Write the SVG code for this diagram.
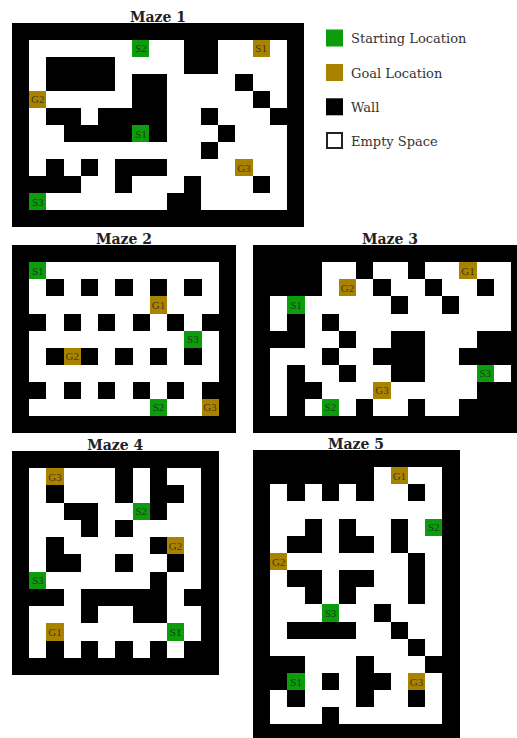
<svg xmlns="http://www.w3.org/2000/svg" width="517" height="738" viewBox="0 0 517 738">
<style>
.bg{fill:#000}
.w{fill:#fff}
.g{fill:#0c9c0c}
.y{fill:#a98300}
.m rect{shape-rendering:crispEdges}
.lbl{font-family:"Liberation Serif","DejaVu Serif",serif;font-size:11px;text-anchor:middle;dominant-baseline:central;fill:#1a1a1a;fill-opacity:.75}
.title{font-family:"DejaVu Serif","Liberation Serif",serif;font-weight:bold;font-size:14px;text-anchor:middle;fill:#222}
.leg{font-family:"DejaVu Serif","Liberation Serif",serif;font-size:13px;fill:#333}
</style>
<rect width="517" height="738" fill="#fff"/>

<g id="maze1">
<text class="title" x="158" y="21.5">Maze 1</text>
<g class="m" transform="translate(12,22.7) scale(17.18,17.05)">
<rect class="bg" x="0" y="0" width="17" height="12"/>
<g class="w">
<rect x="1" y="1" width="9" height="1"/><rect x="12" y="1" width="4" height="1"/>
<rect x="1" y="2" width="1" height="1"/><rect x="6" y="2" width="4" height="1"/><rect x="12" y="2" width="4" height="1"/>
<rect x="1" y="3" width="1" height="1"/><rect x="6" y="3" width="1" height="1"/><rect x="9" y="3" width="4" height="1"/><rect x="14" y="3" width="2" height="1"/>
<rect x="1" y="4" width="6" height="1"/><rect x="9" y="4" width="5" height="1"/><rect x="15" y="4" width="1" height="1"/>
<rect x="1" y="5" width="1" height="1"/><rect x="4" y="5" width="1" height="1"/><rect x="9" y="5" width="2" height="1"/><rect x="12" y="5" width="3" height="1"/>
<rect x="1" y="6" width="2" height="1"/><rect x="7" y="6" width="1" height="1"/><rect x="9" y="6" width="3" height="1"/><rect x="13" y="6" width="3" height="1"/>
<rect x="1" y="7" width="10" height="1"/><rect x="12" y="7" width="4" height="1"/>
<rect x="1" y="8" width="1" height="1"/><rect x="3" y="8" width="1" height="1"/><rect x="5" y="8" width="1" height="1"/><rect x="9" y="8" width="7" height="1"/>
<rect x="4" y="9" width="2" height="1"/><rect x="7" y="9" width="3" height="1"/><rect x="11" y="9" width="3" height="1"/><rect x="15" y="9" width="1" height="1"/>
<rect x="1" y="10" width="8" height="1"/><rect x="11" y="10" width="5" height="1"/>
</g>
<rect class="g" x="7" y="1" width="1" height="1"/>
<rect class="y" x="14" y="1" width="1" height="1"/>
<rect class="y" x="1" y="4" width="1" height="1"/>
<rect class="g" x="7" y="6" width="1" height="1"/>
<rect class="y" x="13" y="8" width="1" height="1"/>
<rect class="g" x="1" y="10" width="1" height="1"/>
</g>
<text class="lbl" x="140.85" y="48.3">S2</text>
<text class="lbl" x="261.1" y="48.3">S1</text>
<text class="lbl" x="37.8" y="99.4">G2</text>
<text class="lbl" x="140.85" y="133.5">S1</text>
<text class="lbl" x="243.9" y="167.6">G3</text>
<text class="lbl" x="37.8" y="201.7">S3</text>
</g>

<g id="legend">
<rect class="g" x="326" y="29.5" width="17" height="17"/>
<text class="leg" x="351" y="43">Starting Location</text>
<rect class="y" x="326" y="64" width="17" height="17"/>
<text class="leg" x="351" y="77.5">Goal Location</text>
<rect class="bg" x="326" y="98.3" width="17" height="17"/>
<text class="leg" x="351" y="111.8">Wall</text>
<rect x="327" y="133" width="15" height="15" fill="#fff" stroke="#222" stroke-width="2"/>
<text class="leg" x="351" y="146">Empty Space</text>
</g>

<g id="maze2">
<text class="title" x="124" y="243.7">Maze 2</text>
<g class="m" transform="translate(12,245.3) scale(17.23,17.06)">
<rect class="bg" x="0" y="0" width="13" height="11"/>
<g class="w">
<rect x="1" y="1" width="11" height="1"/>
<rect x="1" y="2" width="1" height="1"/><rect x="3" y="2" width="1" height="1"/><rect x="5" y="2" width="1" height="1"/><rect x="7" y="2" width="1" height="1"/><rect x="9" y="2" width="1" height="1"/><rect x="11" y="2" width="1" height="1"/>
<rect x="1" y="3" width="11" height="1"/>
<rect x="2" y="4" width="1" height="1"/><rect x="4" y="4" width="1" height="1"/><rect x="6" y="4" width="1" height="1"/><rect x="8" y="4" width="1" height="1"/><rect x="10" y="4" width="1" height="1"/>
<rect x="1" y="5" width="11" height="1"/>
<rect x="1" y="6" width="1" height="1"/><rect x="3" y="6" width="1" height="1"/><rect x="5" y="6" width="1" height="1"/><rect x="7" y="6" width="1" height="1"/><rect x="9" y="6" width="1" height="1"/><rect x="11" y="6" width="1" height="1"/>
<rect x="1" y="7" width="11" height="1"/>
<rect x="2" y="8" width="1" height="1"/><rect x="4" y="8" width="1" height="1"/><rect x="6" y="8" width="1" height="1"/><rect x="8" y="8" width="1" height="1"/><rect x="10" y="8" width="1" height="1"/>
<rect x="1" y="9" width="11" height="1"/>
</g>
<rect class="g" x="1" y="1" width="1" height="1"/>
<rect class="y" x="8" y="3" width="1" height="1"/>
<rect class="g" x="10" y="5" width="1" height="1"/>
<rect class="y" x="3" y="6" width="1" height="1"/>
<rect class="g" x="8" y="9" width="1" height="1"/>
<rect class="y" x="11" y="9" width="1" height="1"/>
</g>
<text class="lbl" x="37.8" y="270.9">S1</text>
<text class="lbl" x="158.5" y="305">G1</text>
<text class="lbl" x="192.9" y="339.1">S3</text>
<text class="lbl" x="72.3" y="356.2">G2</text>
<text class="lbl" x="158.5" y="407.4">S2</text>
<text class="lbl" x="210.1" y="407.4">G3</text>
</g>

<g id="maze3">
<text class="title" x="390" y="243.7">Maze 3</text>
<g class="m" transform="translate(253,245.3) scale(17.2,17.06)">
<rect class="bg" x="0" y="0" width="16" height="11"/>
<g class="w">
<rect x="4" y="1" width="2" height="1"/><rect x="7" y="1" width="2" height="1"/><rect x="10" y="1" width="5" height="1"/>
<rect x="4" y="2" width="3" height="1"/><rect x="8" y="2" width="2" height="1"/><rect x="11" y="2" width="2" height="1"/><rect x="14" y="2" width="1" height="1"/>
<rect x="1" y="3" width="7" height="1"/><rect x="9" y="3" width="2" height="1"/><rect x="12" y="3" width="3" height="1"/>
<rect x="1" y="4" width="1" height="1"/><rect x="3" y="4" width="1" height="1"/><rect x="5" y="4" width="10" height="1"/>
<rect x="3" y="5" width="2" height="1"/><rect x="6" y="5" width="2" height="1"/><rect x="10" y="5" width="3" height="1"/>
<rect x="1" y="6" width="3" height="1"/><rect x="5" y="6" width="2" height="1"/><rect x="10" y="6" width="2" height="1"/>
<rect x="1" y="7" width="1" height="1"/><rect x="3" y="7" width="2" height="1"/><rect x="6" y="7" width="2" height="1"/><rect x="10" y="7" width="5" height="1"/>
<rect x="1" y="8" width="1" height="1"/><rect x="4" y="8" width="9" height="1"/>
<rect x="1" y="9" width="1" height="1"/><rect x="3" y="9" width="3" height="1"/><rect x="7" y="9" width="2" height="1"/><rect x="10" y="9" width="2" height="1"/>
</g>
<rect class="y" x="12" y="1" width="1" height="1"/>
<rect class="y" x="5" y="2" width="1" height="1"/>
<rect class="g" x="2" y="3" width="1" height="1"/>
<rect class="g" x="13" y="7" width="1" height="1"/>
<rect class="y" x="7" y="8" width="1" height="1"/>
<rect class="g" x="4" y="9" width="1" height="1"/>
</g>
<text class="lbl" x="468" y="270.9">G1</text>
<text class="lbl" x="347.6" y="288">G2</text>
<text class="lbl" x="296" y="305">S1</text>
<text class="lbl" x="485.2" y="373.3">S3</text>
<text class="lbl" x="382" y="390.3">G3</text>
<text class="lbl" x="330.4" y="407.4">S2</text>
</g>

<g id="maze4">
<text class="title" x="115.3" y="450.3">Maze 4</text>
<g class="m" transform="translate(12,451) scale(17.22,17.23)">
<rect class="bg" x="0" y="0" width="12" height="13"/>
<g class="w">
<rect x="1" y="1" width="5" height="1"/><rect x="7" y="1" width="1" height="1"/><rect x="9" y="1" width="2" height="1"/>
<rect x="1" y="2" width="1" height="1"/><rect x="3" y="2" width="3" height="1"/><rect x="7" y="2" width="1" height="1"/><rect x="10" y="2" width="1" height="1"/>
<rect x="1" y="3" width="2" height="1"/><rect x="5" y="3" width="3" height="1"/><rect x="9" y="3" width="2" height="1"/>
<rect x="1" y="4" width="3" height="1"/><rect x="5" y="4" width="1" height="1"/><rect x="7" y="4" width="4" height="1"/>
<rect x="1" y="5" width="1" height="1"/><rect x="3" y="5" width="5" height="1"/><rect x="9" y="5" width="2" height="1"/>
<rect x="1" y="6" width="1" height="1"/><rect x="4" y="6" width="2" height="1"/><rect x="7" y="6" width="2" height="1"/><rect x="10" y="6" width="1" height="1"/>
<rect x="1" y="7" width="7" height="1"/><rect x="9" y="7" width="2" height="1"/>
<rect x="3" y="8" width="1" height="1"/><rect x="9" y="8" width="1" height="1"/>
<rect x="1" y="9" width="3" height="1"/><rect x="5" y="9" width="2" height="1"/><rect x="9" y="9" width="2" height="1"/>
<rect x="1" y="10" width="10" height="1"/>
<rect x="1" y="11" width="1" height="1"/><rect x="3" y="11" width="1" height="1"/><rect x="5" y="11" width="1" height="1"/><rect x="7" y="11" width="1" height="1"/><rect x="9" y="11" width="1" height="1"/>
</g>
<rect class="y" x="2" y="1" width="1" height="1"/>
<rect class="g" x="7" y="3" width="1" height="1"/>
<rect class="y" x="9" y="5" width="1" height="1"/>
<rect class="g" x="1" y="7" width="1" height="1"/>
<rect class="y" x="2" y="10" width="1" height="1"/>
<rect class="g" x="9" y="10" width="1" height="1"/>
</g>
<text class="lbl" x="55.05" y="476.8">G3</text>
<text class="lbl" x="141.2" y="511.3">S2</text>
<text class="lbl" x="175.6" y="545.8">G2</text>
<text class="lbl" x="37.8" y="580.2">S3</text>
<text class="lbl" x="55.05" y="631.9">G1</text>
<text class="lbl" x="175.6" y="631.9">S1</text>
</g>

<g id="maze5">
<text class="title" x="356" y="449.3">Maze 5</text>
<g class="m" transform="translate(253,450) scale(17.22,17.15)">
<rect class="bg" x="0" y="0" width="12" height="17"/>
<g class="w">
<rect x="7" y="1" width="4" height="1"/>
<rect x="1" y="2" width="1" height="1"/><rect x="3" y="2" width="1" height="1"/><rect x="5" y="2" width="1" height="1"/><rect x="7" y="2" width="2" height="1"/><rect x="10" y="2" width="1" height="1"/>
<rect x="1" y="3" width="10" height="1"/>
<rect x="1" y="4" width="2" height="1"/><rect x="4" y="4" width="1" height="1"/><rect x="6" y="4" width="2" height="1"/><rect x="9" y="4" width="2" height="1"/>
<rect x="1" y="5" width="1" height="1"/><rect x="4" y="5" width="1" height="1"/><rect x="7" y="5" width="1" height="1"/><rect x="9" y="5" width="2" height="1"/>
<rect x="1" y="6" width="8" height="1"/><rect x="10" y="6" width="1" height="1"/>
<rect x="1" y="7" width="1" height="1"/><rect x="4" y="7" width="1" height="1"/><rect x="7" y="7" width="2" height="1"/><rect x="10" y="7" width="1" height="1"/>
<rect x="1" y="8" width="2" height="1"/><rect x="4" y="8" width="1" height="1"/><rect x="6" y="8" width="3" height="1"/><rect x="10" y="8" width="1" height="1"/>
<rect x="1" y="9" width="6" height="1"/><rect x="8" y="9" width="3" height="1"/>
<rect x="1" y="10" width="1" height="1"/><rect x="6" y="10" width="2" height="1"/><rect x="9" y="10" width="2" height="1"/>
<rect x="1" y="11" width="8" height="1"/><rect x="10" y="11" width="1" height="1"/>
<rect x="3" y="12" width="3" height="1"/><rect x="7" y="12" width="3" height="1"/>
<rect x="2" y="13" width="2" height="1"/><rect x="5" y="13" width="1" height="1"/><rect x="8" y="13" width="3" height="1"/>
<rect x="1" y="14" width="1" height="1"/><rect x="3" y="14" width="3" height="1"/><rect x="7" y="14" width="2" height="1"/><rect x="10" y="14" width="1" height="1"/>
<rect x="1" y="15" width="3" height="1"/><rect x="5" y="15" width="6" height="1"/>
</g>
<rect class="y" x="8" y="1" width="1" height="1"/>
<rect class="g" x="10" y="4" width="1" height="1"/>
<rect class="y" x="1" y="6" width="1" height="1"/>
<rect class="g" x="4" y="9" width="1" height="1"/>
<rect class="g" x="2" y="13" width="1" height="1"/>
<rect class="y" x="9" y="13" width="1" height="1"/>
</g>
<text class="lbl" x="399.4" y="475.7">G1</text>
<text class="lbl" x="433.8" y="527.2">S2</text>
<text class="lbl" x="278.8" y="561.5">G2</text>
<text class="lbl" x="330.5" y="612.9">S3</text>
<text class="lbl" x="296.1" y="681.5">S1</text>
<text class="lbl" x="416.6" y="681.5">G3</text>
</g>
</svg>
